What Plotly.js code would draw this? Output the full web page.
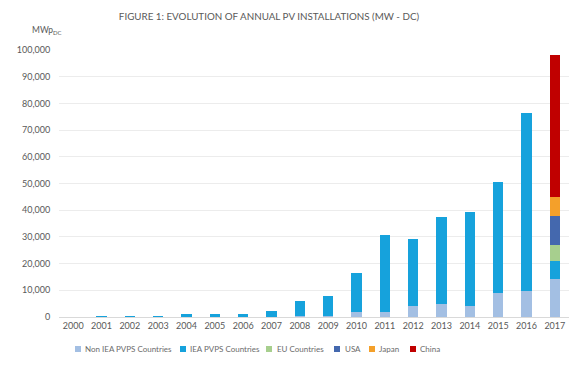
<!DOCTYPE html>
<html>
<head>
<meta charset="utf-8">
<script src="https://cdn.plot.ly/plotly-3.0.1.min.js"></script>
<style>html,body{margin:0;padding:0;background:#fff;}#chart{width:579px;height:370px;}</style>
</head>
<body>
<div id="chart"></div>
<script>
var years = ["2000","2001","2002","2003","2004","2005","2006","2007","2008","2009","2010","2011","2012","2013","2014","2015","2016","2017"];
var nonIEA = [0,0,0,0,0,0,0,50,200,300,1700,1900,4100,4800,4000,9100,9700,14400];
var iea    = [150,250,350,550,1000,1300,1300,2150,5900,7500,14900,28700,25200,32500,35500,41400,66700,6500];
var eu     = [0,0,0,0,0,0,0,0,0,0,0,0,0,0,0,0,0,6000];
var usa    = [0,0,0,0,0,0,0,0,0,0,0,0,0,0,0,0,0,10900];
var japan  = [0,0,0,0,0,0,0,0,0,0,0,0,0,0,0,0,0,7200];
var china  = [0,0,0,0,0,0,0,0,0,0,0,0,0,0,0,0,0,53000];
var seriesNames = ["Non IEA PVPS Countries","IEA PVPS Countries","EU Countries","USA","Japan","China"];
var seriesColors = ["#a3bfe3","#16a2dc","#a7cf8e","#4468ae","#f4a02a","#c00000"];
var seriesData = [nonIEA, iea, eu, usa, japan, china];

var traces = seriesData.map(function(d,i){
  return {type:"bar", x:years, y:d, name:seriesNames[i], marker:{color:seriesColors[i], line:{width:0}}};
});

// plot area geometry (pixels)
var L = 59, R = 10, T = 50, B = 53, W = 579, H = 370;
var pw = W - L - R, ph = H - T - B;
function px2x(p){ return (p - L) / pw; }
function px2y(p){ return (H - B - p) / ph; }

// custom legend layout (pixel positions)
var legMarkX = [75, 180, 266, 334, 369, 410];
var legTextX = [83, 188, 275, 343, 377, 418];
var legY = 349, sq = 6;

var shapes = [], annotations = [];
seriesNames.forEach(function(n, i){
  shapes.push({type:"rect", xref:"paper", yref:"paper",
    x0:px2x(legMarkX[i]), x1:px2x(legMarkX[i]+sq), y0:px2y(legY+sq/2), y1:px2y(legY-sq/2),
    fillcolor:seriesColors[i], line:{width:0}});
  annotations.push({text:n, xref:"paper", yref:"paper", x:px2x(legTextX[i]), y:px2y(legY),
    xanchor:"left", yanchor:"middle", showarrow:false, font:{size:8, color:"#6b6b6b"}});
});
annotations.push({text:"MWp<sub>DC</sub>", xref:"paper", yref:"paper", x:px2x(30), y:px2y(30),
  xanchor:"left", yanchor:"middle", showarrow:false, font:{size:8.5, color:"#595959"}});

var layout = {
  width:W, height:H,
  margin:{l:L, r:R, t:T, b:B},
  barmode:"stack",
  bargap:0.64,
  showlegend:false,
  paper_bgcolor:"#fff", plot_bgcolor:"#fff",
  font:{family:"Lato, Open Sans, sans-serif", color:"#595959", size:9},
  title:{text:"FIGURE 1: EVOLUTION OF ANNUAL PV INSTALLATIONS (MW - DC)", font:{size:9.8, color:"#595959"},
    xref:"container", x:269/579, xanchor:"center", yref:"container", y:1-17/370, yanchor:"middle"},
  xaxis:{type:"category", tickfont:{size:9, color:"#595959"}, showline:true, linecolor:"#d9d9d9", ticks:"", showgrid:false, fixedrange:true},
  yaxis:{range:[0,100000], dtick:10000, tickformat:",d", tickfont:{size:9, color:"#595959"}, gridcolor:"#ececec", zeroline:false, showline:false, ticks:"outside", ticklen:6, tickcolor:"rgba(0,0,0,0)", fixedrange:true},
  shapes:shapes,
  annotations:annotations
};
Plotly.newPlot("chart", traces, layout, {displayModeBar:false, staticPlot:true});
</script>
</body>
</html>
